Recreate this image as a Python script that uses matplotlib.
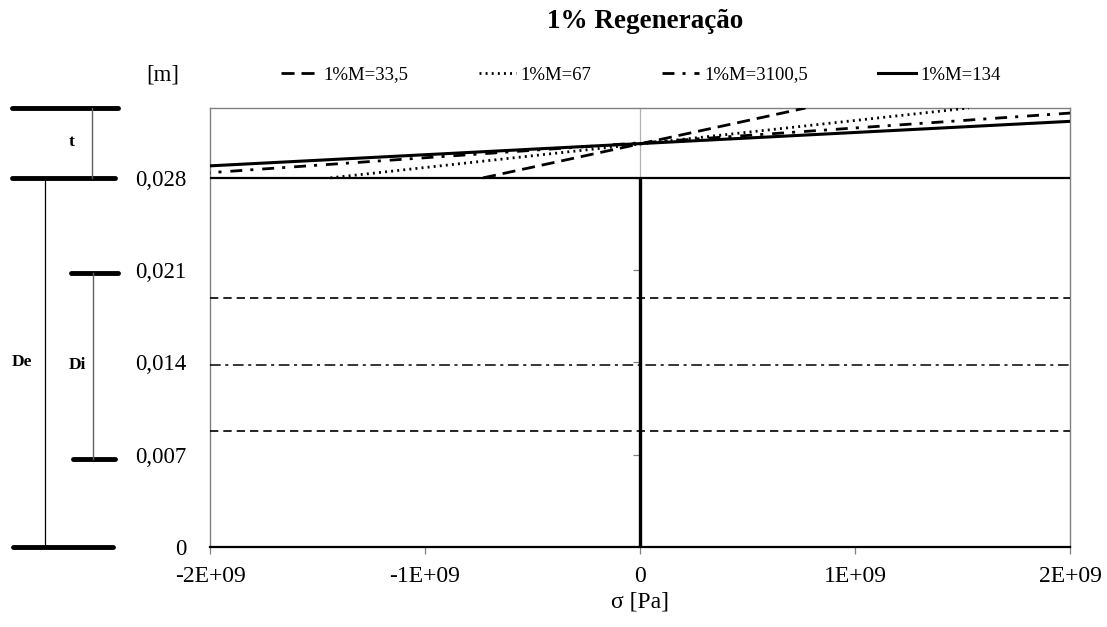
import matplotlib
matplotlib.use("Agg")
import matplotlib.pyplot as plt
from matplotlib.lines import Line2D
from matplotlib.transforms import blended_transform_factory

plt.rcParams['font.family'] = ['Liberation Serif', 'DejaVu Serif']

# Radial position across the wall (inner radius -> outer radius) [m]
r_wall = [0.028, 0.0333]

# Stress at the inner and outer radius for each case [Pa]
series_labels = ["1%M=33,5", "1%M=67", "1%M=3100,5", "1%M=134"]
sigma_m33_5 = [-0.73e9, 0.77e9]
sigma_m67 = [-1.44e9, 1.53e9]
sigma_m3100_5 = [-2.35e9, 2.34e9]
sigma_m134 = [-3.08e9, 3.20e9]

# Geometry reference levels [m]
r_inner = 0.028
r_center = 0.0138
r_bore_lines = [0.0189, 0.0088]
r_top = 0.0333
section_levels = [0.0333, 0.028, 0.0208, 0.0067, 0.0]

x_ticks = [-2e9, -1e9, 0, 1e9, 2e9]
x_tick_labels = ["-2E+09", "-1E+09", "0", "1E+09", "2E+09"]
y_ticks = [0, 0.007, 0.014, 0.021, 0.028]
y_tick_labels = ["0", "0,007", "0,014", "0,021", "0,028"]

W, H = 1107, 627
fig = plt.figure(figsize=(W / 100, H / 100), dpi=100)
ax = fig.add_axes([210 / W, 1 - 547 / H, 860 / W, (547 - 108) / H])

ax.set_xlim(-2e9, 2e9)
ax.set_ylim(0, r_top)

styles = [
    dict(color="black", lw=2.0, linestyle=(0, (4.7, 2.5))),
    dict(color="black", lw=2.0, linestyle=(0, (0.7, 1.5))),
    dict(color="black", lw=2.0, linestyle=(0, (4.3, 2.9, 1.1, 3.2))),
    dict(color="black", lw=2.2, linestyle="-"),
]
all_sigma = [sigma_m33_5, sigma_m67, sigma_m3100_5, sigma_m134]
handles = []
for sig, lab, st in zip(all_sigma, series_labels, styles):
    ln, = ax.plot(sig, r_wall, label=lab, zorder=4, **st)
    handles.append(ln)

# Section outline: inner wall, centre line, bore lines
ax.axhline(r_inner, color="black", lw=1.6, zorder=3)
ax.axhline(r_center, color="black", lw=1.1, linestyle=(0, (7, 3, 2, 3)), zorder=3)
for rb in r_bore_lines:
    ax.axhline(rb, color="black", lw=1.2, linestyle=(0, (5, 3)), zorder=3)

# Vertical axis crossing at sigma = 0
ax.plot([0, 0], [0, r_inner], color="black", lw=2.4, zorder=5, solid_capstyle="butt")
ax.plot([0, 0], [r_inner, r_top], color="#b0b0b0", lw=0.9, zorder=2)
ax.plot([0] * len(y_ticks), y_ticks, linestyle="none", marker=0,
        markersize=5, color="#808080", markeredgewidth=0.9, zorder=2)

ax.set_xticks(x_ticks)
ax.set_xticklabels(x_tick_labels)
ax.set_yticks(y_ticks)
ax.set_yticklabels(y_tick_labels)
ax.tick_params(axis="y", length=0, pad=17, labelsize=16.5)
ax.tick_params(axis="x", direction="out", length=5, width=0.9, color="#808080",
               pad=9, labelsize=17)

for side in ["top", "left", "right"]:
    ax.spines[side].set_color("#808080")
    ax.spines[side].set_linewidth(1.0)
ax.spines["bottom"].set_color("black")
ax.spines["bottom"].set_linewidth(1.6)

ax.set_xlabel("σ [Pa]", fontsize=17, labelpad=3)

fig.text(645 / W, 1 - 22 / H, "1% Regeneração", ha="center", va="center",
         fontsize=19.5, fontweight="bold")
fig.text(163 / W, 1 - 75 / H, "[m]", ha="center", va="center", fontsize=16.5)

fig.legend(handles=handles, labels=series_labels, ncol=4, frameon=False,
           loc="center left", bbox_to_anchor=(281 / W, 1 - 75 / H),
           fontsize=13.5, handlelength=2.0, handletextpad=0.25,
           columnspacing=3.75, borderaxespad=0, borderpad=0)

# Wall / diameter dimension marks on the left margin
tr = blended_transform_factory(fig.transFigure, ax.transData)
bar_spans = [(12, 118), (12, 115), (71, 118), (73, 115), (13, 113)]
for lvl, (x0, x1) in zip(section_levels, bar_spans):
    fig.add_artist(Line2D([x0 / W, x1 / W], [lvl, lvl], transform=tr,
                          color="black", lw=3.5, solid_capstyle="round"))
fig.add_artist(Line2D([92 / W, 92 / W], [section_levels[0], section_levels[1]],
                      transform=tr, color="#606060", lw=1.0))
fig.add_artist(Line2D([45 / W, 45 / W], [section_levels[1], section_levels[4]],
                      transform=tr, color="black", lw=0.9))
fig.add_artist(Line2D([93 / W, 93 / W], [section_levels[2], section_levels[3]],
                      transform=tr, color="#606060", lw=1.0))
fig.text(72 / W, 0.0307, "t", transform=tr, ha="center", va="center",
         fontsize=12.5, fontweight="bold")
fig.text(22 / W, 0.0140, "De", transform=tr, ha="center", va="center",
         fontsize=12.5, fontweight="bold")
fig.text(77 / W, 0.0138, "Di", transform=tr, ha="center", va="center",
         fontsize=12.5, fontweight="bold")

fig.savefig("out.png", dpi=100)
